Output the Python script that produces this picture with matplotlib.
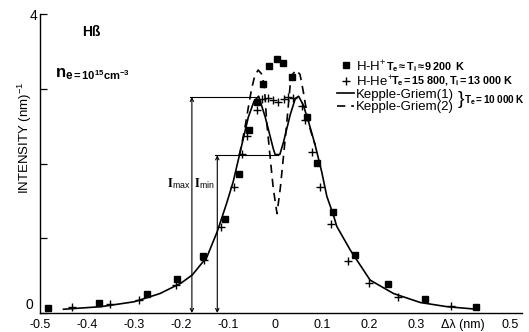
import matplotlib
matplotlib.use("Agg")
import matplotlib.pyplot as plt

plt.rcParams['font.family'] = ['Liberation Sans', 'DejaVu Sans']
plt.rcParams['mathtext.fontset'] = 'stix'

# ---- data ----
hh_x = [-0.483, -0.374, -0.272, -0.209, -0.153, -0.106, -0.077, -0.055, -0.038, -0.026,
        -0.013, 0.004, 0.017, 0.036, 0.068, 0.089, 0.123, 0.170, 0.240, 0.319, 0.428]
hh_y = [0.07, 0.13, 0.25, 0.46, 0.76, 1.26, 1.86, 2.45, 2.82, 3.07,
        3.31, 3.40, 3.35, 3.16, 2.62, 2.01, 1.35, 0.78, 0.39, 0.19, 0.08]

hhe_x = [-0.432, -0.351, -0.289, -0.211, -0.151, -0.115, -0.087, -0.070, -0.060, -0.039,
         -0.028, -0.016, -0.005, 0.006, 0.018, 0.028, 0.039, 0.058, 0.064, 0.079,
         0.096, 0.119, 0.155, 0.200, 0.262, 0.374]
hhe_y = [0.08, 0.12, 0.17, 0.37, 0.71, 1.15, 1.68, 2.13, 2.37, 2.72,
         2.86, 2.87, 2.85, 2.82, 2.86, 2.89, 2.87, 2.77, 2.58, 2.16,
         1.69, 1.19, 0.70, 0.40, 0.21, 0.09]

kg1_x = [-0.45, -0.37, -0.30, -0.245, -0.20, -0.176, -0.145, -0.123, -0.103, -0.089,
         -0.076, -0.057, -0.045, -0.035, -0.021, -0.004, 0.0, 0.010, 0.018, 0.032,
         0.043, 0.050, 0.060, 0.071, 0.085, 0.099, 0.110, 0.124, 0.131, 0.160,
         0.202, 0.252, 0.309, 0.365, 0.429]
kg1_y = [0.05, 0.085, 0.15, 0.26, 0.40, 0.51, 0.75, 1.09, 1.47, 1.76,
         2.11, 2.62, 2.83, 2.90, 2.62, 2.20, 2.12, 2.12, 2.29, 2.65,
         2.87, 2.90, 2.78, 2.56, 2.25, 1.89, 1.56, 1.31, 1.16, 0.84,
         0.44, 0.26, 0.14, 0.085, 0.05]

kg2_x = [-0.076, -0.065, -0.057, -0.050, -0.043, -0.036, -0.029, -0.023, -0.018, -0.011,
         -0.004, 0.004, 0.011, 0.018, 0.025, 0.032, 0.038, 0.045, 0.053, 0.060,
         0.067, 0.075, 0.085]
kg2_y = [2.11, 2.45, 2.75, 3.00, 3.18, 3.25, 3.20, 3.05, 2.56, 2.11,
         1.67, 1.33, 1.67, 2.11, 2.56, 3.05, 3.20, 3.25, 3.19, 2.96,
         2.69, 2.45, 2.25]

I_max = 2.89
I_min = 2.11
x_imax_arrow = -0.177
x_imin_arrow = -0.123
x_imax_end = -0.039
x_imin_end = 0.007

xtick_vals = [-0.5, -0.4, -0.3, -0.2, -0.1, 0.0, 0.1, 0.2, 0.3, 0.4, 0.5]
xtick_labels = ["-0.5", "-0.4", "-0.3", "-0.2", "-0.1", "0", "0.1", "0.2", "0.3",
                "\u0394\u03bb (nm)", "0.5"]
xtick_marks = [-0.4, -0.2, -0.1, 0.0, 0.4, 0.5]
ytick_vals = [0, 1, 2, 3, 4]

# ---- figure ----
fig = plt.figure(figsize=(5.29, 3.32), dpi=100)
ax = fig.add_axes([40/529, 19/332, 482/529, 299/332])
ax.set_xlim(-0.5, 0.525)
ax.set_ylim(0, 4)

for s in ['top', 'right']:
    ax.spines[s].set_visible(False)
for s in ['left', 'bottom']:
    ax.spines[s].set_linewidth(1.0)

l1, = ax.plot(kg1_x, kg1_y, color='black', lw=1.2)
l2, = ax.plot(kg2_x, kg2_y, color='black', lw=1.2, linestyle=(0, (5, 3.5)))
m1, = ax.plot(hh_x, hh_y, linestyle='none', marker='s', ms=4.2, color='black')
m2, = ax.plot(hhe_x, hhe_y, linestyle='none', marker='+', ms=5.5, mew=1.0, color='black')

# Imax / Imin construction
ax.annotate('', xy=(x_imax_arrow, I_max), xytext=(x_imax_arrow, 0),
            arrowprops=dict(arrowstyle='<->', lw=0.8, color='black',
                            shrinkA=0, shrinkB=0, mutation_scale=6))
ax.annotate('', xy=(x_imin_arrow, I_min), xytext=(x_imin_arrow, 0),
            arrowprops=dict(arrowstyle='<->', lw=0.8, color='black',
                            shrinkA=0, shrinkB=0, mutation_scale=6))
ax.plot([x_imax_arrow - 0.004, x_imax_end], [I_max, I_max], color='black', lw=0.8)
ax.plot([x_imin_arrow - 0.004, x_imin_end], [I_min, I_min], color='black', lw=0.8)
ax.text(x_imax_arrow - 0.003, 1.73, r"$\mathbf{I}_{\mathregular{max}}$", ha='right',
        va='center', fontsize=9)
ax.text(x_imax_arrow + 0.005, 1.73, r"$\mathbf{I}_{\mathregular{min}}$", ha='left',
        va='center', fontsize=9)

# ticks
ax.set_xticks(xtick_vals)
ax.set_xticklabels(xtick_labels, fontsize=9)
ax.set_xticks(xtick_marks, minor=True)
ax.tick_params(axis='x', which='major', length=0, pad=4)
ax.tick_params(axis='x', which='minor', direction='in', length=6, width=0.9)
ax.set_yticks(ytick_vals)
ax.set_yticklabels(["", "", "", "", "4"], fontsize=10)
ax.tick_params(axis='y', direction='in', length=5, width=0.9, pad=2)
# "0" of the y axis sits a little above the x tick labels
ax.annotate("0", xy=(ax.get_xlim()[0], ytick_vals[0]), xytext=(-7.5, 5.5),
            textcoords='offset points', ha='center', va='center', fontsize=10)

fig.text(25/529, 1 - 138/332, r"INTENSITY (nm)$^{\mathregular{-1}}$", rotation=90,
         ha='center', va='center', fontsize=9.5)

ax.text(-0.41, 3.76, "H\u00df", fontsize=10, fontweight='bold', va='center', ha='left')
ax.text(-0.468, 3.19, r"$\mathregular{n_e}$", fontsize=12, fontweight='bold',
        va='center', ha='left')
ax.text(-0.432, 3.18, r"$\mathregular{=10^{15}cm^{-3}}$", fontsize=8, fontweight='bold',
        va='center', ha='left')

leg = ax.legend(handles=[m1, m2, l1, l2],
                labels=[r"H-H$^{\mathregular{+}}$", r"H-He$^{\mathregular{+}}$",
                        "Kepple-Griem(1)", "Kepple-Griem(2)"],
                loc='upper left', bbox_to_anchor=((337 - 40) / 482, (313 - 58) / 299),
                frameon=False, fontsize=9.5, handlelength=1.3, handletextpad=0.15,
                labelspacing=0.02, borderpad=0, borderaxespad=0, numpoints=1)

ax.text(0.236, 3.29, r"$\mathregular{T_e{\approx}T_i{\approx}9\,200\ \ K}$", fontsize=7.8,
        fontweight='bold', va='center', ha='left')
ax.text(0.247, 3.10, r"$\mathregular{T_e{=}15\ 800,T_i{=}13\ 000\ K}$", fontsize=7.8,
        fontweight='bold', va='center', ha='left')
ax.text(0.389, 2.86, "}", fontsize=14, va='center', ha='left', fontweight='light')
ax.text(0.402, 2.85, r"$\mathregular{T_e{=}10\ 000\ K}$", fontsize=7.2,
        fontweight='bold', va='center', ha='left')

fig.savefig("out.png", dpi=100)
